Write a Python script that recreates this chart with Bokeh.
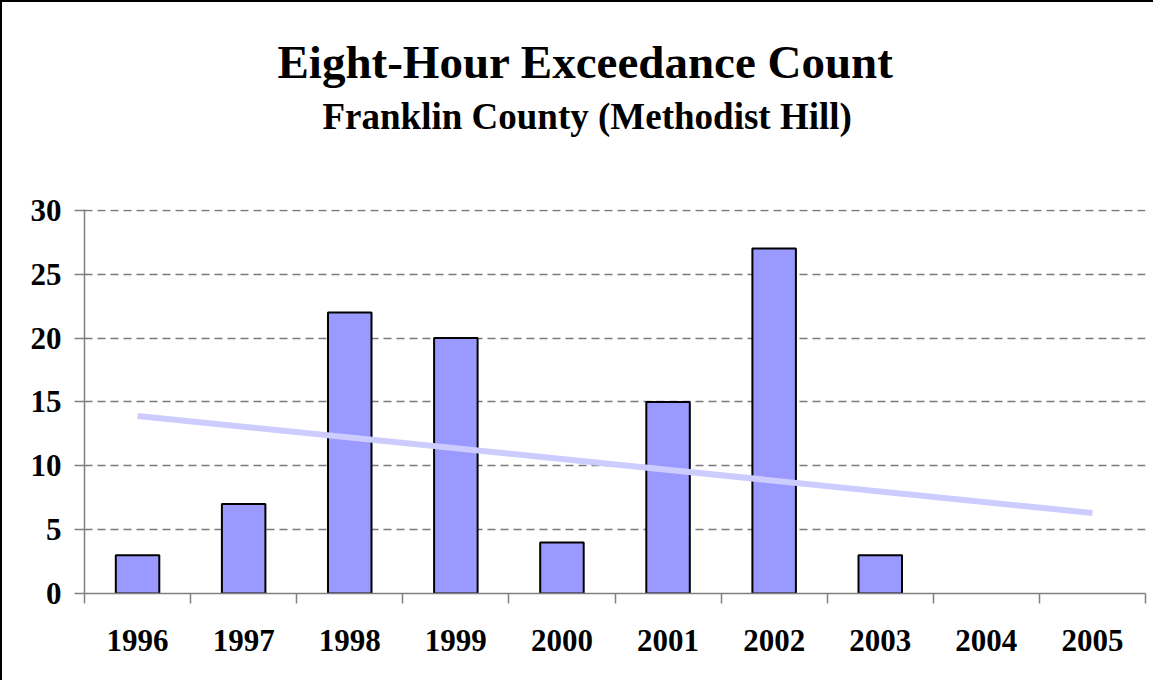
from bokeh.plotting import figure
from bokeh.models import FixedTicker, Range1d, Title, ColumnDataSource
from bokeh.embed import file_html
from bokeh.resources import INLINE

years = ["1996", "1997", "1998", "1999", "2000", "2001", "2002", "2003", "2004", "2005"]
counts = [3, 7, 22, 20, 4, 15, 27, 3, 0, 0]
trend_years = ["1996", "2005"]
trend_values = [13.9, 6.3]
y_ticks = [0, 5, 10, 15, 20, 25, 30]

FONT = "Liberation Serif"

idx = list(range(len(years)))
pos = {y: i for i, y in enumerate(years)}
src = ColumnDataSource(dict(x=idx, top=counts,
                            edge=[1.0 if c > 0 else 0.0 for c in counts]))

p = figure(width=1153, height=680, output_backend="svg", toolbar_location=None,
           x_range=Range1d(-0.5, len(years) - 0.5), y_range=Range1d(0, 30.06),
           min_border_left=82, min_border_right=10, min_border_top=207, min_border_bottom=89)
p.outline_line_color = None
p.background_fill_color = "white"
p.border_fill_color = "white"
p.styles = {"border-left": "2px solid black", "border-top": "2px solid black"}

p.vbar(x="x", top="top", width=0.41, bottom=0, source=src, fill_color="#9999FF",
       line_color="black", line_width=2, line_alpha="edge")
p.line(x=[pos[y] for y in trend_years], y=trend_values, line_color="#CCCCFF", line_width=6)

# titles (first added sits closest to the plot)
spacer = Title(text=" ", text_font=FONT, text_font_size="20px", standoff=44)
p.add_layout(spacer, "above")
sub = Title(text="Franklin County (Methodist Hill)", text_font=FONT, text_font_size="37px",
            text_font_style="bold", text_color="black", align="left", offset=238, standoff=10)
p.add_layout(sub, "above")
ttl = Title(text="Eight-Hour Exceedance Count", text_font=FONT, text_font_size="47px",
            text_font_style="bold", text_color="black", align="left", offset=193, standoff=2)
p.add_layout(ttl, "above")

# y axis
p.yaxis.ticker = FixedTicker(ticks=y_ticks)
p.yaxis.major_label_text_font = FONT
p.yaxis.major_label_text_font_size = "31px"
p.yaxis.major_label_text_font_style = "bold"
p.yaxis.major_label_text_color = "black"
p.yaxis.axis_line_color = "#808080"
p.yaxis.axis_line_width = 1.5
p.yaxis.major_tick_line_color = "#808080"
p.yaxis.major_tick_line_width = 1.5
p.yaxis.major_tick_out = 10
p.yaxis.major_tick_in = 0
p.yaxis.minor_tick_line_color = None
p.yaxis.major_label_standoff = 13

# x axis: labels at category centres, ticks at boundaries
p.xaxis.ticker = FixedTicker(ticks=idx, minor_ticks=[i - 0.5 for i in range(len(years) + 1)])
p.xaxis.major_label_overrides = {i: y for i, y in enumerate(years)}
p.xaxis.major_label_text_font = FONT
p.xaxis.major_label_text_font_size = "31px"
p.xaxis.major_label_text_font_style = "bold"
p.xaxis.major_label_text_color = "black"
p.xaxis.axis_line_color = "#808080"
p.xaxis.axis_line_width = 1.5
p.xaxis.major_tick_line_color = None
p.xaxis.major_tick_out = 0
p.xaxis.major_tick_in = 0
p.xaxis.minor_tick_line_color = "#808080"
p.xaxis.minor_tick_line_width = 1.5
p.xaxis.minor_tick_out = 10
p.xaxis.minor_tick_in = 0
p.xaxis.major_label_standoff = 26

p.xgrid.grid_line_color = None
p.ygrid.grid_line_color = "#7a7a7a"
p.ygrid.grid_line_width = 1.5
p.ygrid.grid_line_dash = "8 5"
p.ygrid.ticker = FixedTicker(ticks=y_ticks[1:])

open("out.html", "w").write(file_html(p, INLINE))
